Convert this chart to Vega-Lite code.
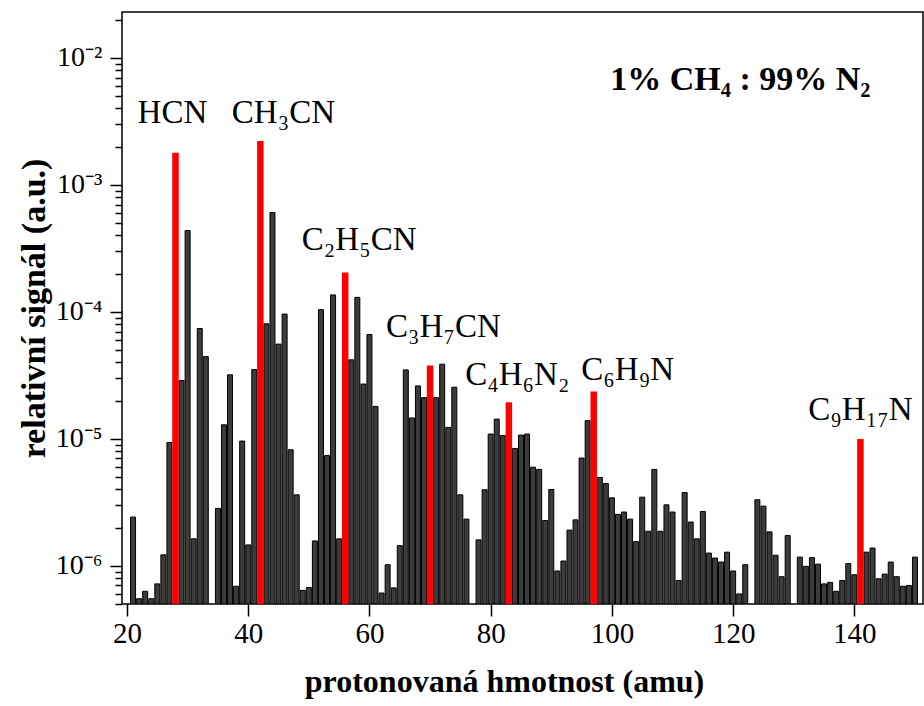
{
  "$schema": "https://vega.github.io/schema/vega-lite/v6.json",
  "width": 801,
  "height": 592,
  "autosize": {"type": "none"},
  "padding": {"left": 122, "top": 12, "right": 1, "bottom": 102},
  "background": "white",
  "config": {
    "view": {"stroke": "black", "strokeWidth": 1.5},
    "font": "Liberation Serif"
  },
  "datasets": {
    "spectrum": [
      {"m":21,"v":2.42e-6,"kind":"other"},{"m":22,"v":5.5e-7,"kind":"other"},{"m":23,"v":6.3e-7,"kind":"other"},{"m":24,"v":5.5e-7,"kind":"other"},
      {"m":25,"v":7.2e-7,"kind":"other"},{"m":26,"v":1.22e-6,"kind":"other"},{"m":27,"v":9.35e-6,"kind":"other"},{"m":28,"v":1.79e-3,"kind":"product"},
      {"m":29,"v":2.88e-5,"kind":"other"},{"m":30,"v":4.37e-4,"kind":"other"},{"m":31,"v":1.63e-6,"kind":"other"},{"m":32,"v":7.4e-5,"kind":"other"},
      {"m":33,"v":4.44e-5,"kind":"other"},{"m":35,"v":2.83e-6,"kind":"other"},{"m":36,"v":1.29e-5,"kind":"other"},{"m":37,"v":3.19e-5,"kind":"other"},
      {"m":38,"v":6.9e-7,"kind":"other"},{"m":39,"v":9.6e-6,"kind":"other"},{"m":40,"v":1.46e-6,"kind":"other"},{"m":41,"v":3.51e-5,"kind":"other"},
      {"m":42,"v":2.22e-3,"kind":"product"},{"m":43,"v":8.05e-5,"kind":"other"},{"m":44,"v":6.05e-4,"kind":"other"},{"m":45,"v":5.57e-5,"kind":"other"},
      {"m":46,"v":9.6e-5,"kind":"other"},{"m":47,"v":8.2e-6,"kind":"other"},{"m":48,"v":3.62e-6,"kind":"other"},{"m":49,"v":6.4e-7,"kind":"other"},
      {"m":50,"v":6.75e-7,"kind":"other"},{"m":51,"v":1.57e-6,"kind":"other"},{"m":52,"v":1.04e-4,"kind":"other"},{"m":53,"v":7.4e-6,"kind":"other"},
      {"m":54,"v":1.36e-4,"kind":"other"},{"m":55,"v":1.63e-6,"kind":"other"},{"m":56,"v":2.04e-4,"kind":"product"},{"m":57,"v":4.19e-5,"kind":"other"},
      {"m":58,"v":1.30e-4,"kind":"other"},{"m":59,"v":2.7e-5,"kind":"other"},{"m":60,"v":6.63e-5,"kind":"other"},{"m":61,"v":1.80e-5,"kind":"other"},
      {"m":62,"v":6.1e-7,"kind":"other"},{"m":63,"v":1.02e-6,"kind":"other"},{"m":64,"v":6.7e-7,"kind":"other"},{"m":65,"v":1.44e-6,"kind":"other"},
      {"m":66,"v":3.49e-5,"kind":"other"},{"m":67,"v":1.46e-5,"kind":"other"},{"m":68,"v":2.61e-5,"kind":"other"},{"m":69,"v":2.11e-5,"kind":"other"},
      {"m":70,"v":3.78e-5,"kind":"product"},{"m":71,"v":2.11e-5,"kind":"other"},{"m":72,"v":3.87e-5,"kind":"other"},{"m":73,"v":1.23e-5,"kind":"other"},
      {"m":74,"v":2.55e-5,"kind":"other"},{"m":75,"v":3.62e-6,"kind":"other"},{"m":76,"v":2.33e-6,"kind":"other"},{"m":78,"v":1.60e-6,"kind":"other"},
      {"m":79,"v":3.97e-6,"kind":"other"},{"m":80,"v":1.09e-5,"kind":"other"},{"m":81,"v":1.43e-5,"kind":"other"},{"m":82,"v":1.06e-5,"kind":"other"},
      {"m":83,"v":1.94e-5,"kind":"product"},{"m":84,"v":8.4e-6,"kind":"other"},{"m":85,"v":1.07e-5,"kind":"other"},{"m":86,"v":1.09e-5,"kind":"other"},
      {"m":87,"v":5.98e-6,"kind":"other"},{"m":88,"v":5.74e-6,"kind":"other"},{"m":89,"v":2.27e-6,"kind":"other"},{"m":90,"v":3.99e-6,"kind":"other"},
      {"m":91,"v":9.1e-7,"kind":"other"},{"m":92,"v":1.09e-6,"kind":"other"},{"m":93,"v":1.91e-6,"kind":"other"},{"m":94,"v":2.30e-6,"kind":"other"},
      {"m":95,"v":7.05e-6,"kind":"other"},{"m":96,"v":1.39e-5,"kind":"other"},{"m":97,"v":2.36e-5,"kind":"product"},{"m":98,"v":4.96e-6,"kind":"other"},
      {"m":99,"v":4.45e-6,"kind":"other"},{"m":100,"v":3.43e-6,"kind":"other"},{"m":101,"v":2.54e-6,"kind":"other"},{"m":102,"v":2.65e-6,"kind":"other"},
      {"m":103,"v":2.33e-6,"kind":"other"},{"m":104,"v":1.55e-6,"kind":"other"},{"m":105,"v":3.47e-6,"kind":"other"},{"m":106,"v":1.87e-6,"kind":"other"},
      {"m":107,"v":5.74e-6,"kind":"other"},{"m":108,"v":1.87e-6,"kind":"other"},{"m":109,"v":3.02e-6,"kind":"other"},{"m":110,"v":2.65e-6,"kind":"other"},
      {"m":111,"v":7.66e-7,"kind":"other"},{"m":112,"v":3.78e-6,"kind":"other"},{"m":113,"v":2.21e-6,"kind":"other"},{"m":114,"v":1.63e-6,"kind":"other"},
      {"m":115,"v":2.68e-6,"kind":"other"},{"m":116,"v":1.26e-6,"kind":"other"},{"m":117,"v":1.15e-6,"kind":"other"},{"m":118,"v":1.07e-6,"kind":"other"},
      {"m":119,"v":1.28e-6,"kind":"other"},{"m":120,"v":9.1e-7,"kind":"other"},{"m":121,"v":6.0e-7,"kind":"other"},{"m":122,"v":1.02e-6,"kind":"other"},
      {"m":124,"v":3.31e-6,"kind":"other"},{"m":125,"v":2.95e-6,"kind":"other"},{"m":126,"v":1.85e-6,"kind":"other"},{"m":127,"v":1.21e-6,"kind":"other"},
      {"m":128,"v":8.2e-7,"kind":"other"},{"m":129,"v":1.73e-6,"kind":"other"},{"m":131,"v":1.17e-6,"kind":"other"},{"m":132,"v":9.9e-7,"kind":"other"},
      {"m":133,"v":1.16e-6,"kind":"other"},{"m":134,"v":1.03e-6,"kind":"other"},{"m":135,"v":7.2e-7,"kind":"other"},{"m":136,"v":7.4e-7,"kind":"other"},
      {"m":137,"v":6.3e-7,"kind":"other"},{"m":138,"v":7.66e-7,"kind":"other"},{"m":139,"v":1.04e-6,"kind":"other"},{"m":140,"v":8.5e-7,"kind":"other"},
      {"m":141,"v":9.95e-6,"kind":"product"},{"m":142,"v":1.28e-6,"kind":"other"},{"m":143,"v":1.38e-6,"kind":"other"},{"m":144,"v":7.9e-7,"kind":"other"},
      {"m":145,"v":8.6e-7,"kind":"other"},{"m":146,"v":1.07e-6,"kind":"other"},{"m":147,"v":8.2e-7,"kind":"other"},{"m":148,"v":6.9e-7,"kind":"other"},
      {"m":149,"v":7.0e-7,"kind":"other"},{"m":150,"v":1.17e-6,"kind":"other"}
    ],
    "labels": [
      {"text":"HCN","lx":27.5,"ly":3.7e-3},
      {"text":"CH₃CN","lx":45.8,"ly":3.7e-3},
      {"text":"C₂H₅CN","lx":58.3,"ly":3.67e-4},
      {"text":"C₃H₇CN","lx":72.2,"ly":7.6e-5},
      {"text":"C₄H₆N₂","lx":84.4,"ly":3.2e-5},
      {"text":"C₆H₉N","lx":102.6,"ly":3.5e-5},
      {"text":"C₉H₁₇N","lx":141.0,"ly":1.68e-5}
    ],
    "note": [
      {"text":"1% CH₄ : 99% N₂","lx":121.2,"ly":6.7e-3}
    ]
  },
  "encoding": {
    "x": {
      "field": "m", "type": "quantitative",
      "scale": {"domain": [20, 150.5], "nice": false, "zero": false},
      "axis": {
        "values": [20, 40, 60, 80, 100, 120, 140],
        "title": "protonovaná hmotnost (amu)",
        "titleFont": "Liberation Serif", "titleFontSize": 32, "titleFontWeight": "bold", "titleColor": "black",
        "titlePadding": 18, "titleX": 382,
        "labelFont": "Liberation Serif", "labelFontSize": 29, "labelColor": "black", "labelPadding": 3,
        "tickSize": 12, "tickColor": "black", "tickWidth": 1.5,
        "domain": false, "grid": false, "labelFlush": false
      }
    },
    "y": {
      "field": "v", "type": "quantitative",
      "scale": {"type": "log", "domain": [5e-7, 0.023], "nice": false},
      "axis": {
        "values": [5e-7,6e-7,7e-7,8e-7,9e-7,1e-6,2e-6,3e-6,4e-6,5e-6,6e-6,7e-6,8e-6,9e-6,1e-5,2e-5,3e-5,4e-5,5e-5,6e-5,7e-5,8e-5,9e-5,1e-4,2e-4,3e-4,4e-4,5e-4,6e-4,7e-4,8e-4,9e-4,1e-3,2e-3,3e-3,4e-3,5e-3,6e-3,7e-3,8e-3,9e-3,1e-2,2e-2],
        "labelExpr": "abs(log(datum.value)/LN10 - round(log(datum.value)/LN10)) < 0.01 ? '10⁻' + substring('⁰¹²³⁴⁵⁶⁷⁸⁹', -round(log(datum.value)/LN10), -round(log(datum.value)/LN10) + 1) : ''",
        "tickSize": {"condition": {"test": "abs(log(datum.value)/LN10 - round(log(datum.value)/LN10)) < 0.01", "value": 12}, "value": 7},
        "tickColor": "black", "tickWidth": 1.5,
        "title": "relativní signál (a.u.)",
        "titleFont": "Liberation Serif", "titleFontSize": 34, "titleFontWeight": "bold", "titleColor": "black",
        "titlePadding": 4,
        "labelFont": "Liberation Serif", "labelFontSize": 28, "labelColor": "black", "labelPadding": 8,
        "domain": false, "grid": false, "labelFlush": false, "labelOverlap": false
      }
    }
  },
  "layer": [
    {
      "data": {"name": "spectrum"},
      "transform": [{"filter": "datum.kind === 'other'"}],
      "mark": {"type": "bar", "width": 5, "fill": "#3c3c3c", "stroke": "black", "strokeWidth": 1, "clip": true},
      "encoding": {"y2": {"datum": 5e-7}}
    },
    {
      "data": {"name": "spectrum"},
      "transform": [{"filter": "datum.kind === 'product'"}],
      "mark": {"type": "bar", "width": 6.5, "fill": "#ff0000", "clip": true},
      "encoding": {"y2": {"datum": 5e-7}}
    },
    {
      "data": {"name": "labels"},
      "mark": {"type": "text", "font": "Liberation Serif", "fontSize": 33, "color": "black", "baseline": "middle", "align": "center"},
      "encoding": {
        "x": {"field": "lx", "type": "quantitative"},
        "y": {"field": "ly", "type": "quantitative"},
        "text": {"field": "text"}
      }
    },
    {
      "data": {"name": "note"},
      "mark": {"type": "text", "font": "Liberation Serif", "fontSize": 34, "fontWeight": "bold", "color": "black", "baseline": "middle", "align": "center"},
      "encoding": {
        "x": {"field": "lx", "type": "quantitative"},
        "y": {"field": "ly", "type": "quantitative"},
        "text": {"field": "text"}
      }
    }
  ]
}
